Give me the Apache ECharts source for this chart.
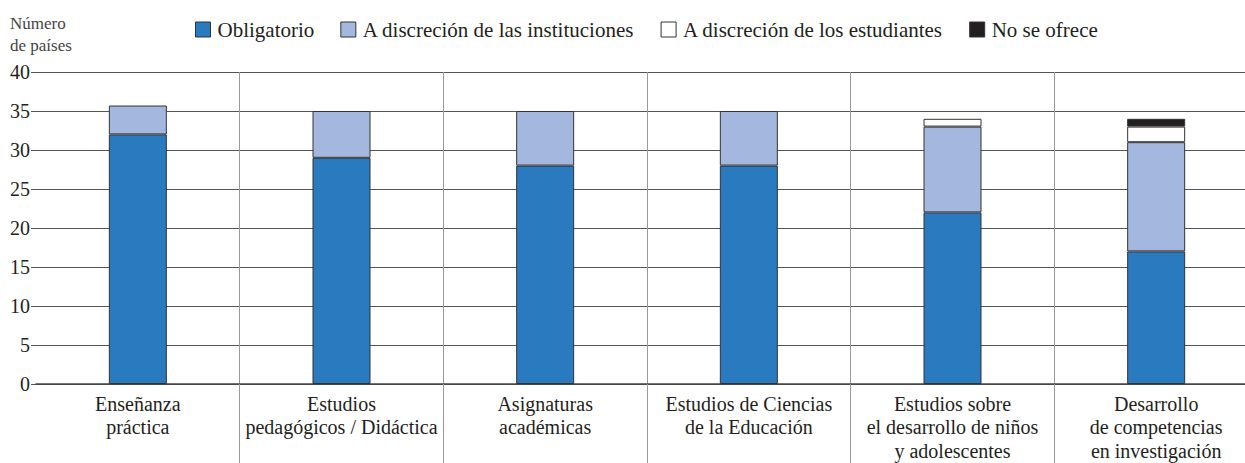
<!DOCTYPE html>
<html>
<head>
<meta charset="utf-8">
<script src="https://cdn.jsdelivr.net/npm/echarts@6/dist/echarts.min.js"></script>
<style>
  html, body { margin: 0; padding: 0; background: #fff; }
  #chart { width: 1245px; height: 463px; }
</style>
</head>
<body>
<div id="chart"></div>
<script>
// Enfoque de los contenidos en la formación inicial docente (número de países)
const categories = [
  'Enseñanza\npráctica',
  'Estudios\npedagógicos / Didáctica',
  'Asignaturas\nacadémicas',
  'Estudios de Ciencias\nde la Educación',
  'Estudios sobre\nel desarrollo de niños\ny adolescentes',
  'Desarrollo\nde competencias\nen investigación'
];
const obligatorio = [32, 29, 28, 28, 22, 17];
const discrecionInstituciones = [3.7, 6, 7, 7, 11, 14];
const discrecionEstudiantes = [0, 0, 0, 0, 1, 2];
const noSeOfrece = [0, 0, 0, 0, 0, 1];
const yTicks = { min: 0, max: 40, interval: 5 };

const FONT = 'Liberation Serif';
const TEXT = '#231f20';

const seriesDefs = [
  { name: 'Obligatorio', data: obligatorio, color: '#2a7abf' },
  { name: 'A discreción de las instituciones', data: discrecionInstituciones, color: '#a4b7de' },
  { name: 'A discreción de los estudiantes', data: discrecionEstudiantes, color: '#ffffff' },
  { name: 'No se ofrece', data: noSeOfrece, color: '#231f20' }
];

const chart = echarts.init(document.getElementById('chart'), null, { renderer: 'svg' });

chart.setOption({
  animation: false,
  textStyle: { fontFamily: FONT, color: TEXT },
  legend: {
    left: 190,
    top: 14,
    itemWidth: 15,
    itemHeight: 15,
    itemGap: 26,
    icon: 'rect',
    textStyle: { fontFamily: FONT, fontSize: 21, color: TEXT, padding: [0, 0, 0, 2] },
    data: seriesDefs.map(s => ({
      name: s.name,
      itemStyle: { color: s.color, borderColor: '#333', borderWidth: 1 }
    }))
  },
  graphic: [{
    type: 'text',
    left: 10,
    top: 12,
    style: {
      text: 'Número\nde países',
      font: '17px "' + FONT + '"',
      lineHeight: 22,
      fill: '#444'
    }
  }],
  // the last column runs past the right edge of the canvas
  grid: { left: 36, width: 1222, top: 72, bottom: 79, containLabel: false, outerBoundsMode: 'none' },
  xAxis: {
    type: 'category',
    data: categories,
    boundaryGap: true,
    axisLine: { show: true, lineStyle: { color: '#444', width: 1.5 } },
    axisTick: {
      show: true,
      length: 90,
      interval: (i) => i > 0,
      lineStyle: { color: '#999', width: 1 }
    },
    splitLine: {
      show: true,
      interval: (i) => i > 0,
      lineStyle: { color: '#999', width: 1 }
    },
    axisLabel: {
      interval: 0,
      margin: 8,
      fontFamily: FONT,
      fontSize: 20,
      lineHeight: 23.5,
      color: TEXT
    }
  },
  yAxis: {
    type: 'value',
    min: yTicks.min,
    max: yTicks.max,
    interval: yTicks.interval,
    axisLine: { show: false },
    axisTick: { show: true, length: 5, lineStyle: { color: '#555' } },
    splitLine: { show: true, lineStyle: { color: '#555', width: 1.2 } },
    axisLabel: { fontFamily: FONT, fontSize: 20, color: TEXT, margin: 6 }
  },
  series: seriesDefs.map(s => ({
    name: s.name,
    type: 'bar',
    stack: 'total',
    barWidth: 58,
    // empty segments are left out so no zero-height outline is drawn
    data: s.data.map(v => (v > 0 ? v : null)),
    itemStyle: { color: s.color, borderColor: '#333', borderWidth: 1 }
  }))
});
</script>
</body>
</html>
